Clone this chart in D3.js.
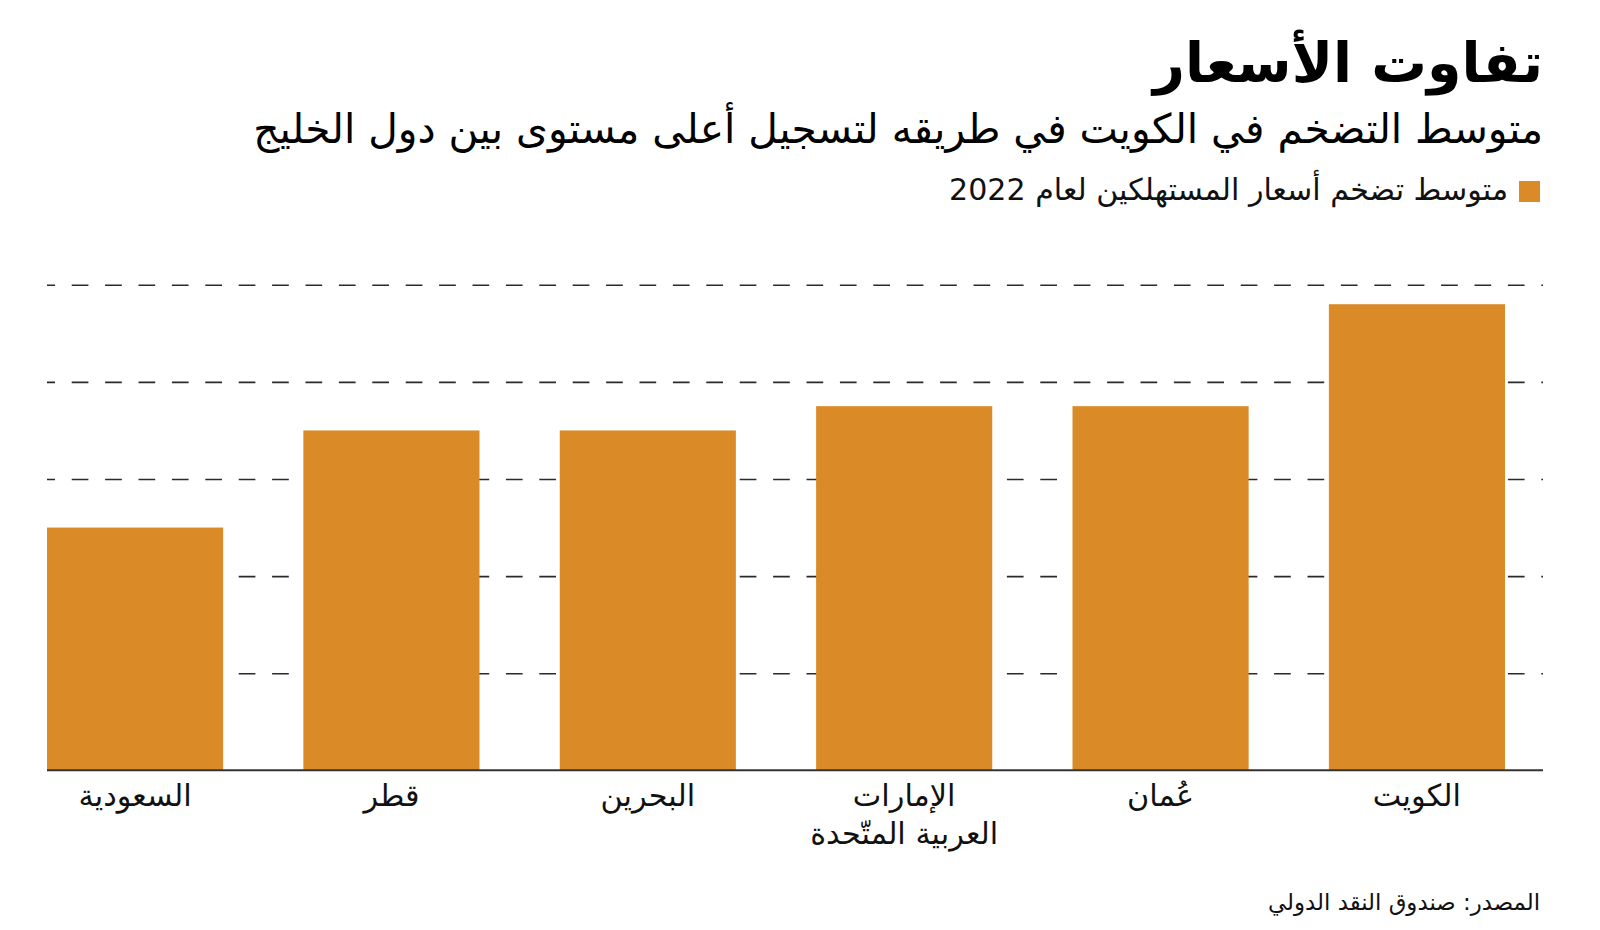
<!DOCTYPE html>
<html lang="ar">
<head>
<meta charset="utf-8">
<script src="https://cdn.jsdelivr.net/npm/d3@7"></script>
<style>
  html, body { margin: 0; padding: 0; background: #fff; }
  svg { display: block; font-family: "DejaVu Sans", "Noto Sans", sans-serif; direction: rtl; }
</style>
</head>
<body>
<div id="chart"></div>
<script>
// chart data (left to right as drawn)
var countries = ["السعودية", "قطر", "البحرين", "الإمارات|العربية المتّحدة", "عُمان", "الكويت"];
var inflation = [2.5, 3.5, 3.5, 3.75, 3.75, 4.8];
var gridTicks = [1, 2, 3, 4, 5];

var titleText = "تفاوت الأسعار";
var subtitleText = "متوسط التضخم في الكويت في طريقه لتسجيل أعلى مستوى بين دول الخليج";
var legendText = "متوسط تضخم أسعار المستهلكين لعام 2022";
var sourceText = "المصدر: صندوق النقد الدولي";

var svgWidth = 1600, svgHeight = 930;
var barColor = "#da8a26";

// plot area
var margin = { top: 285, right: 57, bottom: 160, left: 47 };
var plotW = svgWidth - margin.left - margin.right;   // 1496
var baseY = 770.3;
var barsRight = 1505 - margin.left;                  // bars stop before the axis end

var svg = d3.select("#chart")
  .append("svg")
  .attr("width", svgWidth)
  .attr("height", svgHeight);

var chart = svg.append("g")
  .attr("transform", "translate(" + margin.left + ",0)");

var x = d3.scaleBand()
  .domain(countries)
  .range([0, barsRight])
  .paddingInner(0.313)
  .paddingOuter(0);

var y = d3.scaleLinear()
  .domain([0, 5])
  .range([baseY, 284.8]);

// dashed gridlines
var grid = chart.append("g")
  .attr("class", "grid")
  .call(d3.axisLeft(y).tickValues(gridTicks).tickSize(-plotW).tickFormat(""));
grid.select(".domain").remove();
grid.selectAll(".tick line")
  .attr("stroke", "#2a2a2a")
  .attr("stroke-width", 1.6)
  .attr("stroke-dasharray", "16.7 16.7")
  .attr("stroke-dashoffset", 8.7);

// bars
chart.selectAll("rect.bar")
  .data(inflation)
  .enter()
  .append("rect")
  .attr("class", "bar")
  .attr("x", function(d, i){ return x(countries[i]); })
  .attr("y", function(d){ return y(d); })
  .attr("width", x.bandwidth())
  .attr("height", function(d){ return y(0) - y(d); })
  .attr("fill", barColor);

// baseline
chart.append("line")
  .attr("x1", 0)
  .attr("x2", plotW)
  .attr("y1", y(0))
  .attr("y2", y(0))
  .attr("stroke", "#333")
  .attr("stroke-width", 2);

// fit a text element's font size to a target width
function fitWidth(sel, target){
  var fs = +sel.attr("font-size");
  var w = sel.node().getComputedTextLength();
  if (w > 0) sel.attr("font-size", (fs * target / w).toFixed(2));
  return +sel.attr("font-size");
}

// category labels, size taken from the second UAE line's width
var probe = chart.append("text").attr("font-size", 25).text("العربية المتّحدة");
var labelSize = fitWidth(probe, 188);
probe.remove();

var labels = chart.selectAll("text.cat")
  .data(countries)
  .enter()
  .append("text")
  .attr("class", "cat")
  .attr("text-anchor", "middle")
  .attr("font-size", labelSize)
  .attr("fill", "#111")
  .attr("x", function(d){ return x(d) + x.bandwidth() / 2; })
  .attr("y", 806);

labels.each(function(d){
  var parts = d.split("|");
  var t = d3.select(this);
  parts.forEach(function(p, k){
    t.append("tspan")
      .attr("x", t.attr("x"))
      .attr("dy", k === 0 ? 0 : 38)
      .text(p);
  });
});

var rightX = 1543;

var title = svg.append("text")
  .attr("x", rightX)
  .attr("y", 82)
  .attr("text-anchor", "start")
  .attr("font-size", 56)
  .attr("font-weight", "bold")
  .attr("fill", "#000")
  .text(titleText);
fitWidth(title, 390);

var subtitle = svg.append("text")
  .attr("x", rightX)
  .attr("y", 143)
  .attr("text-anchor", "start")
  .attr("font-size", 36)
  .attr("fill", "#000")
  .text(subtitleText);
fitWidth(subtitle, 1290);

// legend
svg.append("rect")
  .attr("x", 1519)
  .attr("y", 181)
  .attr("width", 21)
  .attr("height", 21)
  .attr("fill", barColor);

var legend = svg.append("text")
  .attr("x", 1508)
  .attr("y", 200)
  .attr("text-anchor", "start")
  .attr("font-size", 25)
  .attr("fill", "#111")
  .text(legendText);
fitWidth(legend, 559);

var source = svg.append("text")
  .attr("x", 1540)
  .attr("y", 910)
  .attr("text-anchor", "start")
  .attr("font-size", 20)
  .attr("fill", "#111")
  .text(sourceText);
fitWidth(source, 272);
</script>
</body>
</html>
